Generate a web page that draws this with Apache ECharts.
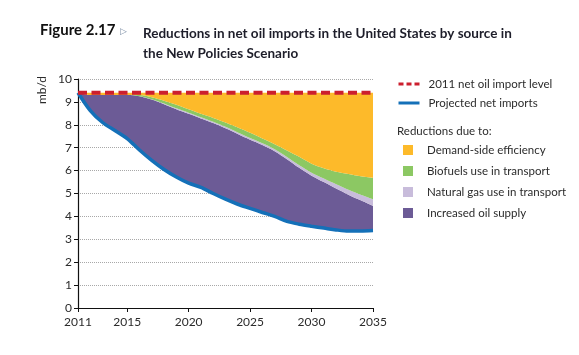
<!DOCTYPE html>
<html>
<head>
<meta charset="utf-8">
<script src="https://cdn.jsdelivr.net/npm/echarts@6/dist/echarts.min.js"></script>
<style>
html,body{margin:0;padding:0;background:#fff;}
#c{width:579px;height:355px;}
</style>
</head>
<body>
<div id="c"></div>
<script>
// ---- data ----
const years = ['2011','2012','2013','2014','2015','2016','2017','2018','2019','2020','2021','2022','2023',
  '2024','2025','2026','2027','2028','2029','2030','2031','2032','2033','2034','2035'];
const shownYears = ['2011','2015','2020','2025','2030','2035'];
const level2011 = [9.4,9.4,9.4,9.4,9.4,9.4,9.4,9.4,9.4,9.4,9.4,9.4,9.4,9.4,9.4,9.4,9.4,9.4,9.4,9.4,9.4,9.4,9.4,9.4,9.4];
const netImports = [9.4,8.62,8.1,7.75,7.4,6.9,6.45,6.05,5.72,5.45,5.27,5.0,4.75,4.53,4.35,4.17,4.0,3.78,3.66,3.57,3.49,3.41,3.36,3.36,3.38];
const oilSupply  = [0,0.68,1.2,1.55,1.9,2.35,2.65,2.85,2.96,3.03,3.01,3.08,3.1,3.07,3.0,2.95,2.85,2.72,2.46,2.21,2.01,1.81,1.59,1.34,1.07];
const naturalGas = [0,0,0,0,0,0,0.02,0.03,0.04,0.05,0.05,0.05,0.06,0.06,0.07,0.07,0.08,0.09,0.11,0.13,0.15,0.18,0.21,0.25,0.3];
const biofuels   = [0,0,0,0,0,0.05,0.08,0.12,0.16,0.15,0.15,0.17,0.19,0.22,0.23,0.21,0.22,0.29,0.37,0.39,0.45,0.55,0.69,0.8,0.93];
const efficiency = [0,0.1,0.1,0.1,0.1,0.1,0.2,0.35,0.52,0.72,0.92,1.1,1.3,1.52,1.75,2.0,2.25,2.52,2.8,3.1,3.3,3.45,3.55,3.65,3.72];

const FONT = 'Lato';
const TXT = '#2b2b2b';
const chart = echarts.init(document.getElementById('c'), null, {renderer:'canvas'});

function area(name, data, color){
  return {name, type:'line', stack:'s', data, symbol:'none', smooth:0.3,
    lineStyle:{width:0}, areaStyle:{color, opacity:1}, itemStyle:{color}, z:2};
}

chart.setOption({
  animation:false,
  textStyle:{fontFamily:FONT},
  title:[
    {text:'Figure 2.17', left:35, top:18, textStyle:{fontFamily:FONT, fontSize:15, fontWeight:'bold', color:'#111'}},
    {text:'\u25B7', left:115, top:22, textStyle:{fontFamily:'DejaVu Sans', fontSize:9, fontWeight:'normal', color:'#7d8fa6'}},
    {text:'Reductions in net oil imports in the United States by source in\nthe New Policies Scenario', left:138, top:19,
      textStyle:{fontFamily:FONT, fontSize:13.5, fontWeight:'bold', color:'#1e1e2a', lineHeight:20}}
  ],
  grid:{left:78, right:206, top:79, bottom:47, containLabel:false},
  legend:[
    {data:['2011 net oil import level'], orient:'vertical', left:392, top:73, itemWidth:21, itemHeight:12,
      itemStyle:{opacity:0}, lineStyle:{type:[5,3], width:3}, textStyle:{fontFamily:FONT, fontSize:11.5, color:TXT, padding:[0,0,0,4]}, selectedMode:false},
    {data:['Projected net imports'], orient:'vertical', left:392, top:92, itemWidth:21, itemHeight:12,
      itemStyle:{opacity:0}, lineStyle:{width:3}, textStyle:{fontFamily:FONT, fontSize:11.5, color:TXT, padding:[0,0,0,4]}, selectedMode:false},
    {data:['Demand-side efficiency','Biofuels use in transport','Natural gas use in transport','Increased oil supply'],
      orient:'vertical', left:398, top:138, itemWidth:10, itemHeight:10, itemGap:7, icon:'rect',
      textStyle:{fontFamily:FONT, fontSize:11.5, color:TXT, padding:[0,0,0,9], lineHeight:14}, selectedMode:false}
  ],
  graphic:[
    {type:'text', left:397, top:125, style:{text:'Reductions due to:', fontFamily:FONT, fontSize:11.5, fill:TXT}},
    {type:'text', x:42, y:90, rotation:Math.PI/2, style:{text:'mb/d', fontFamily:FONT, fontSize:12, fill:TXT, align:'center', verticalAlign:'middle'}}
  ],
  xAxis:{type:'category', data:years, boundaryGap:false,
    axisLine:{lineStyle:{color:'#111', width:1.2}},
    axisTick:{show:true, length:4, lineStyle:{color:'#111'}, interval:(i,v)=>shownYears.includes(v)},
    axisLabel:{fontFamily:FONT, fontSize:12, color:TXT, margin:8, interval:(i,v)=>shownYears.includes(v)},
    splitLine:{show:false}},
  yAxis:{type:'value', min:0, max:10, interval:1,
    axisLine:{show:true, lineStyle:{color:'#111', width:1.2}},
    axisTick:{show:true, length:4, lineStyle:{color:'#111'}},
    axisLabel:{fontFamily:FONT, fontSize:12, color:TXT, margin:6},
    splitLine:{show:true, lineStyle:{color:'#a8a8a8', type:'dotted', width:1}}},
  series:[
    {name:'Projected net imports', type:'line', stack:'s', data:netImports, symbol:'none', smooth:0.3,
      lineStyle:{color:'#1470b8', width:3.5}, itemStyle:{color:'#1470b8'}, z:5},
    area('Increased oil supply', oilSupply, '#6c5b96'),
    area('Natural gas use in transport', naturalGas, '#c8bcdb'),
    area('Biofuels use in transport', biofuels, '#8cc863'),
    area('Demand-side efficiency', efficiency, '#fdba2a'),
    {name:'2011 net oil import level', type:'line', data:level2011, symbol:'none',
      lineStyle:{color:'#cc1f2e', width:4, type:[9,4.5]}, itemStyle:{color:'#cc1f2e'}, z:6}
  ]
});
</script>
</body>
</html>
